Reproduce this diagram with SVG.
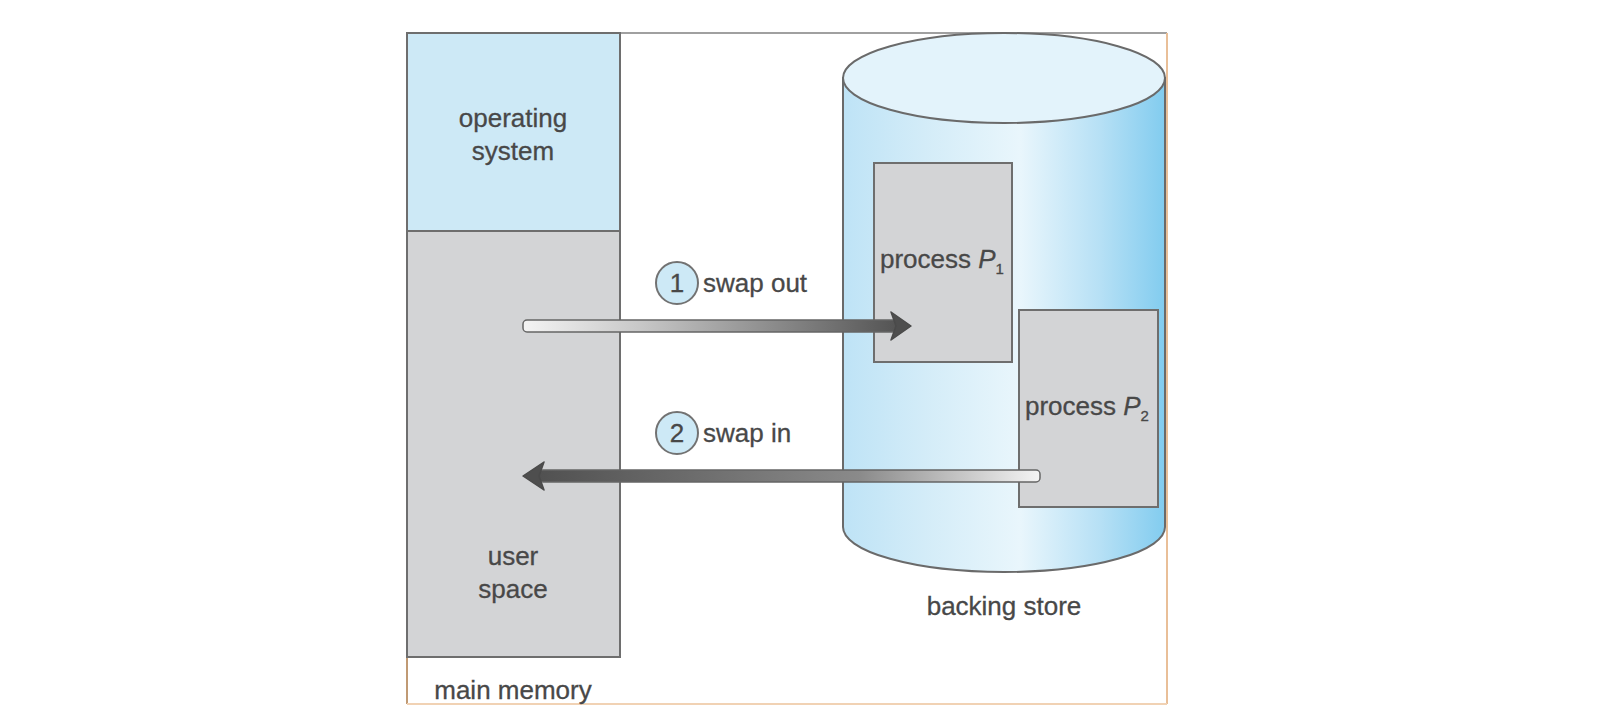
<svg xmlns="http://www.w3.org/2000/svg" width="1600" height="728" viewBox="0 0 1600 728">
<style>
.t{font-family:"Liberation Sans",Arial,sans-serif;font-size:26px;fill:#484848;stroke:#484848;stroke-width:0.3}
.box{fill:#d3d4d6;stroke:#6e6e6e;stroke-width:2}
.circ{fill:#cde9f6;stroke:#727272;stroke-width:2}
</style>
<defs>
<linearGradient id="cyl" x1="0" y1="0" x2="1" y2="0">
<stop offset="0" stop-color="#bee3f6"/>
<stop offset="0.25" stop-color="#d3ecf8"/>
<stop offset="0.55" stop-color="#e9f6fc"/>
<stop offset="0.8" stop-color="#b6e0f5"/>
<stop offset="1" stop-color="#82ccef"/>
</linearGradient>
<linearGradient id="gout" x1="523" y1="0" x2="910" y2="0" gradientUnits="userSpaceOnUse">
<stop offset="0" stop-color="#f4f4f4"/>
<stop offset="0.3" stop-color="#c8c8c8"/>
<stop offset="1" stop-color="#4e4e4e"/>
</linearGradient>
<linearGradient id="gin" x1="523" y1="0" x2="1040" y2="0" gradientUnits="userSpaceOnUse">
<stop offset="0" stop-color="#4e4e4e"/>
<stop offset="0.65" stop-color="#8a8a8a"/>
<stop offset="1" stop-color="#f4f4f4"/>
</linearGradient>
</defs>
<rect width="1600" height="728" fill="#ffffff"/>
<g id="frame" fill="none" stroke-width="2">
<line x1="407" y1="33" x2="1167" y2="33" stroke="#a0a0a0"/>
<line x1="407" y1="33" x2="407" y2="704" stroke="#c09a74"/>
<line x1="1167" y1="33" x2="1167" y2="704" stroke="#e9bf98"/>
<line x1="407" y1="704" x2="1167" y2="704" stroke="#f1d2b4"/>
</g>
<g id="main-memory">
<rect x="407" y="33" width="213" height="198" fill="#cde9f6" stroke="#6e6e6e" stroke-width="2"/>
<rect x="407" y="231" width="213" height="426" class="box"/>
<text class="t" x="513" y="127" text-anchor="middle">operating</text>
<text class="t" x="513" y="160" text-anchor="middle">system</text>
<text class="t" x="513" y="565" text-anchor="middle">user</text>
<text class="t" x="513" y="598" text-anchor="middle">space</text>
<text class="t" x="513" y="699" text-anchor="middle">main memory</text>
</g>
<g id="backing-store">
<path d="M843 78 L843 527 A161 45 0 0 0 1165 527 L1165 78 Z" fill="url(#cyl)" stroke="#6a6a6a" stroke-width="2"/>
<ellipse cx="1004" cy="78" rx="161" ry="45" fill="#e3f3fb" stroke="#6a6a6a" stroke-width="2"/>
<text class="t" x="1004" y="615" text-anchor="middle">backing store</text>
</g>
<g id="process-p1">
<rect x="874" y="163" width="138" height="199" class="box"/>
<text class="t" x="880" y="268">process <tspan font-style="italic">P</tspan><tspan font-size="15" dy="6">1</tspan></text>
</g>
<g id="process-p2">
<rect x="1019" y="310" width="139" height="197" class="box"/>
<text class="t" x="1025" y="415">process <tspan font-style="italic">P</tspan><tspan font-size="15" dy="6">2</tspan></text>
</g>
<g id="connectors">
<g id="swap-out">
<rect x="523" y="320" width="374" height="12" rx="4" fill="url(#gout)" stroke="#666" stroke-width="1.5"/>
<path d="M891 312 L911 326 L891 340 L896 326 Z" fill="#4e4e4e" stroke="#4a4a4a" stroke-width="1.5" stroke-linejoin="round"/>
<circle cx="677" cy="283" r="21" class="circ"/>
<text class="t" x="677" y="292" text-anchor="middle">1</text>
<text class="t" x="703" y="292">swap out</text>
</g>
<g id="swap-in">
<rect x="539" y="470" width="501" height="12" rx="4" fill="url(#gin)" stroke="#666" stroke-width="1.5"/>
<path d="M544 462 L523 476 L544 490 L539 476 Z" fill="#4e4e4e" stroke="#4a4a4a" stroke-width="1.5" stroke-linejoin="round"/>
<circle cx="677" cy="433" r="21" class="circ"/>
<text class="t" x="677" y="442" text-anchor="middle">2</text>
<text class="t" x="703" y="442">swap in</text>
</g>
</g>
</svg>
